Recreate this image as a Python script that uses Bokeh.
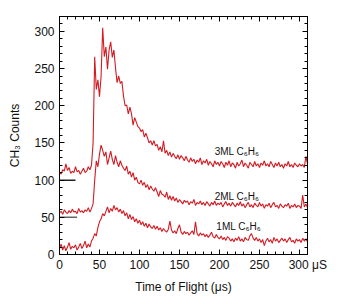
from bokeh.plotting import figure
from bokeh.models import LinearAxis, SingleIntervalTicker, Range1d, Label
from bokeh.embed import file_html
from bokeh.resources import INLINE

# Time of flight sampled every 2 microseconds (0 .. 310)
ml3 = [110,108,114,112,122,113,117,109,112,110,
       118,111,113,108,112,116,110,112,118,114,
       120,150,266,222,235,212,240,305,266,279,
       249,275,286,265,275,251,231,240,230,233,
       213,200,201,189,198,189,174,184,178,172,
       170,165,168,158,163,157,150,153,147,153,
       146,148,140,145,138,153,136,140,133,138,
       131,136,132,129,134,128,133,130,126,132,
       127,124,130,125,128,122,127,124,130,121,
       126,123,128,120,125,122,118,126,121,124,
       119,125,122,117,124,120,126,118,123,121,
       116,124,119,122,127,118,123,120,116,124,
       121,118,125,119,122,117,123,120,126,119,
       122,118,125,121,117,123,119,124,118,121,
       116,122,119,125,118,121,117,123,120,118,
       122,119,121,117,132,122]

ml2 = [56,58,54,60,57,55,59,56,61,57,
       58,55,62,57,59,56,60,58,63,57,
       62,68,100,126,118,135,147,140,132,138,
       121,130,139,128,121,133,124,118,126,120,
       116,113,119,108,112,104,110,100,104,97,
       95,100,93,97,90,94,87,92,88,85,
       90,84,78,86,81,80,77,84,74,79,
       73,78,72,76,70,74,71,68,73,70,
       72,67,71,69,74,66,70,68,72,67,
       70,66,71,68,65,70,67,72,66,69,
       67,70,64,68,71,66,69,65,70,67,
       64,69,66,71,65,68,63,67,70,64,
       67,63,69,66,64,70,65,68,62,67,
       65,69,63,67,70,64,66,62,68,65,
       63,67,65,69,62,66,64,68,63,66,
       65,62,80,64,68,63]

ml1 = [8,14,6,12,5,10,16,7,11,9,
       13,6,10,15,8,12,18,9,14,10,
       18,22,28,25,36,44,48,55,52,58,
       64,56,62,58,66,60,63,57,61,55,
       59,52,56,48,54,47,51,44,48,42,
       46,40,44,38,42,36,41,37,35,39,
       34,38,33,36,31,35,32,30,34,45,
       33,29,32,28,35,40,30,27,31,28,
       30,26,29,32,27,44,28,25,29,26,
       28,24,27,23,26,30,24,22,27,23,
       21,25,20,23,19,24,22,18,21,17,
       22,19,24,18,21,17,23,20,19,25,
       28,22,19,23,18,21,16,20,12,18,
       22,17,20,15,23,18,21,16,19,22,
       18,21,16,20,23,17,19,15,21,18,
       20,16,22,18,21,17]

series_names = ["3ML C₆H₆", "2ML C₆H₆", "1ML C₆H₆"]
baseline_levels = [100, 50]
tick_values = [0, 50, 100, 150, 200, 250, 300]
x_unit = "μS"

def tof(vals):
    return [2 * i for i in range(len(vals))]

FONT = "Liberation Sans"
RED = "#d41a22"

p = figure(width=330, height=296, output_backend="svg", toolbar_location=None,
           x_range=Range1d(0, 310), y_range=Range1d(0, 320),
           min_border_left=59, min_border_right=23, min_border_top=16, min_border_bottom=37,
           background_fill_color="white", border_fill_color="white")
p.grid.visible = False
p.outline_line_color = "black"
p.outline_line_width = 1

for vals in (ml3, ml2, ml1):
    p.line(tof(vals), vals, line_color=RED, line_width=1.1)

# baseline reference marks
p.segment(x0=0, y0=baseline_levels[0], x1=20, y1=baseline_levels[0], line_color="#222222", line_width=1.5)
p.segment(x0=0, y0=baseline_levels[1], x1=22, y1=baseline_levels[1], line_color="#666666", line_width=1.5)

def style_axis(ax, labels=True):
    ax.ticker = SingleIntervalTicker(interval=50, num_minor_ticks=5)
    ax.axis_line_color = "black"
    ax.axis_line_width = 1
    ax.major_tick_in = 5
    ax.major_tick_out = 0
    ax.minor_tick_in = 3
    ax.minor_tick_out = 0
    ax.major_tick_line_color = "black"
    ax.minor_tick_line_color = "black"
    if labels:
        ax.major_label_text_font = FONT
        ax.major_label_text_font_size = "12px"
        ax.major_label_text_color = "#111111"
        ax.axis_label_text_font = FONT
        ax.axis_label_text_font_size = "12px"
        ax.axis_label_text_font_style = "normal"
        ax.axis_label_text_color = "#111111"
    else:
        ax.major_label_overrides = {v: "" for v in tick_values}
        ax.major_label_standoff = 0

style_axis(p.xaxis[0])
style_axis(p.yaxis[0])
p.xaxis[0].axis_label = "Time of Flight (μs)"
p.xaxis[0].major_label_standoff = 3
p.xaxis[0].axis_label_standoff = 5
# last tick carries the unit; leading figure spaces keep "300" centred on its tick
p.xaxis[0].major_label_overrides = {300: "\u2007\u2007\u2008300 " + x_unit}
p.yaxis[0].axis_label = "CH₃ Counts"
p.yaxis[0].major_label_standoff = 5
p.yaxis[0].axis_label_standoff = 9

top = LinearAxis()
right = LinearAxis()
style_axis(top, labels=False)
style_axis(right, labels=False)
p.add_layout(top, "above")
p.add_layout(right, "right")

for txt, x, y in zip(series_names, [222, 222, 224], [139, 78, 37]):
    p.add_layout(Label(x=x, y=y, text=txt, text_font=FONT, text_font_size="10px",
                       text_align="center", text_baseline="middle", text_color="#111111"))

open("out.html", "w").write(file_html(p, INLINE))
